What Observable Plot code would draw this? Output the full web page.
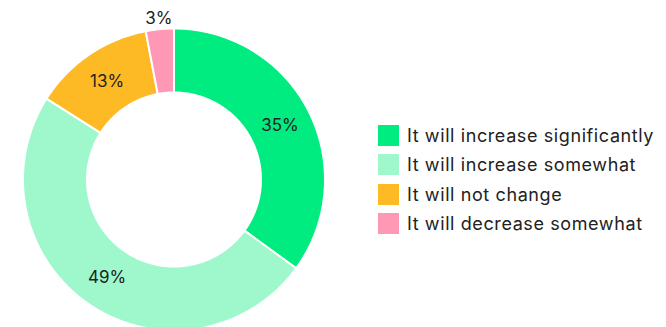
<!DOCTYPE html>
<html>
<head>
<meta charset="utf-8">
<script src="https://cdn.jsdelivr.net/npm/d3@7"></script>
<script src="https://cdn.jsdelivr.net/npm/@observablehq/plot@0.6"></script>
<style>
  html, body { margin: 0; padding: 0; background: #fff; }
  #wrap { position: relative; width: 666px; height: 327px; overflow: hidden; font-family: Inter, "Open Sans", sans-serif; }
  #legend { position: absolute; left: 378px; top: 120.8px; }
  .item { display: flex; align-items: center; height: 29.3px; }
  .sw { width: 21px; height: 21px; margin-right: 8px; flex: none; }
  .lab { font-size: 18px; letter-spacing: 0.6px; color: #222; white-space: nowrap; }
</style>
</head>
<body>
<div id="wrap"></div>
<script>
const categories = ["It will increase significantly", "It will increase somewhat", "It will not change", "It will decrease somewhat"];
const values = [35, 49, 13, 3];
const colors = ["#00ec80", "#9ef8cc", "#fdba25", "#ff98b5"];

const total = d3.sum(values);
const innerR = 87 / 151;
const labelR = 119 / 151;
const outsideR = 162 / 151;

// build slice outlines from cumulative values
const outline = [];
const labels = [];
let acc = 0;
values.forEach((v, i) => {
  const a0 = acc / total * 2 * Math.PI;
  acc += v;
  const a1 = acc / total * 2 * Math.PI;
  const n = Math.max(8, Math.ceil((a1 - a0) / (2 * Math.PI) * 360));
  const pts = [];
  for (let k = 0; k <= n; k++) {
    const a = a0 + (a1 - a0) * k / n;
    pts.push({key: categories[i], x: Math.sin(a), y: Math.cos(a)});
  }
  for (let k = n; k >= 0; k--) {
    const a = a0 + (a1 - a0) * k / n;
    pts.push({key: categories[i], x: innerR * Math.sin(a), y: innerR * Math.cos(a)});
  }
  pts.push(pts[0]);
  outline.push(...pts);
  const am = (a0 + a1) / 2;
  const r = v / total < 0.05 ? outsideR : labelR;
  labels.push({text: v + "%", x: r * Math.sin(am), y: r * Math.cos(am)});
});

const cx = 173.5, cy = 179, R = 151;
const chart = Plot.plot({
  width: 666,
  height: 327,
  margin: 0,
  x: {domain: [-1, 1], range: [cx - R, cx + R], axis: null},
  y: {domain: [-1, 1], range: [cy + R, cy - R], axis: null},
  color: {domain: categories, range: colors},
  style: {fontFamily: "Inter, 'Open Sans', sans-serif", background: "#fff"},
  marks: [
    Plot.line(outline, {x: "x", y: "y", z: "key", fill: "key", stroke: "#fff", strokeWidth: 2, curve: "linear", strokeLinejoin: "miter"}),
    Plot.text(labels, {x: "x", y: "y", text: "text", fontSize: 17, fill: "#222", style: "letter-spacing: 0.4px"})
  ]
});

const wrap = document.getElementById("wrap");
wrap.appendChild(chart);
const legend = document.createElement("div");
legend.id = "legend";
categories.forEach((c, i) => {
  const item = document.createElement("div");
  item.className = "item";
  const sw = document.createElement("div");
  sw.className = "sw";
  sw.style.background = colors[i];
  const lab = document.createElement("span");
  lab.className = "lab";
  lab.textContent = c;
  item.appendChild(sw);
  item.appendChild(lab);
  legend.appendChild(item);
});
wrap.appendChild(legend);
</script>
</body>
</html>
